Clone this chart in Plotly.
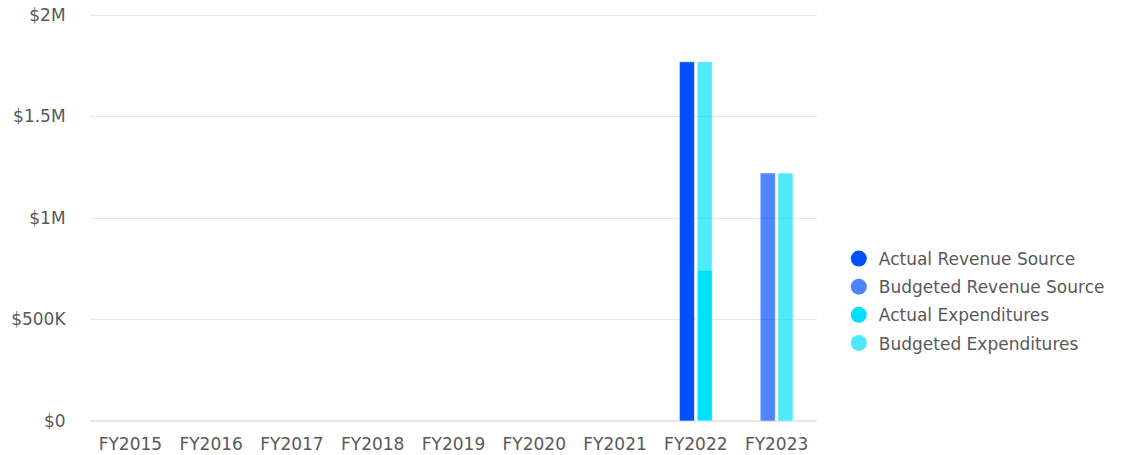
import plotly.graph_objects as go

years = ["FY2015", "FY2016", "FY2017", "FY2018", "FY2019", "FY2020", "FY2021", "FY2022", "FY2023"]
actual_revenue = [None, None, None, None, None, None, None, 1770000, None]
budgeted_revenue = [None, None, None, None, None, None, None, None, 1222000]
actual_expenditures = [None, None, None, None, None, None, None, 742000, None]
budgeted_expenditures = [None, None, None, None, None, None, None, 1770000, 1222000]

series_names = ["Actual Revenue Source", "Budgeted Revenue Source", "Actual Expenditures", "Budgeted Expenditures"]
legend_colors = ["#0050ff", "#4f82ff", "#00dffb", "#50e7fb"]

tick_vals = [0, 500000, 1000000, 1500000, 2000000]
tick_text = ["$0", "$500K", "$1M", "$1.5M", "$2M"]

line = dict(color="rgba(255,255,255,0.6)", width=1)
fig = go.Figure()
fig.add_bar(x=years, y=actual_revenue, name=series_names[0], offsetgroup="rev", showlegend=False,
            marker=dict(color="#0050ff", line=line))
fig.add_bar(x=years, y=budgeted_revenue, name=series_names[1], offsetgroup="rev", showlegend=False,
            marker=dict(color="rgba(0,80,255,0.69)", line=line))
fig.add_bar(x=years, y=actual_expenditures, name=series_names[2], offsetgroup="exp", showlegend=False,
            marker=dict(color="#00dffb", line=line))
fig.add_bar(x=years, y=budgeted_expenditures, name=series_names[3], offsetgroup="exp", showlegend=False,
            marker=dict(color="rgba(0,224,251,0.69)", line=line))

# legend entries drawn as circles
for name, col in zip(series_names, legend_colors):
    fig.add_scatter(x=[None], y=[None], mode="markers", name=name, legendgroup=name,
                    marker=dict(symbol="circle", size=17, color=col))

fig.update_layout(
    width=1127, height=455,
    barmode="overlay", bargap=0.56, bargroupgap=0.15,
    plot_bgcolor="white", paper_bgcolor="white",
    margin=dict(l=90, r=310, t=13, b=34, autoexpand=False),
    font=dict(family="DejaVu Sans, sans-serif", size=17, color="#595959"),
    legend=dict(x=1.03, y=0.294, yanchor="middle", xanchor="left",
                font=dict(size=17, color="#595959"), itemsizing="trace",
                traceorder="grouped", tracegroupgap=3),
    showlegend=True,
)
fig.update_xaxes(showgrid=False, showline=False, ticks="outside", ticklen=8,
                 tickcolor="rgba(0,0,0,0)", tickfont=dict(size=17), automargin=False)
fig.update_yaxes(range=[0, 2010000], tickvals=tick_vals, ticktext=tick_text,
                 gridcolor="#e6e6e6", gridwidth=1, zeroline=True, zerolinecolor="#e6e6e6",
                 showline=False, ticks="outside", ticklen=20, tickcolor="rgba(0,0,0,0)",
                 tickfont=dict(size=17), automargin=False, ticklabeloverflow="allow")
fig.write_html("out.html", config={"displayModeBar": False},
               post_script="document.body.style.margin='0';")
